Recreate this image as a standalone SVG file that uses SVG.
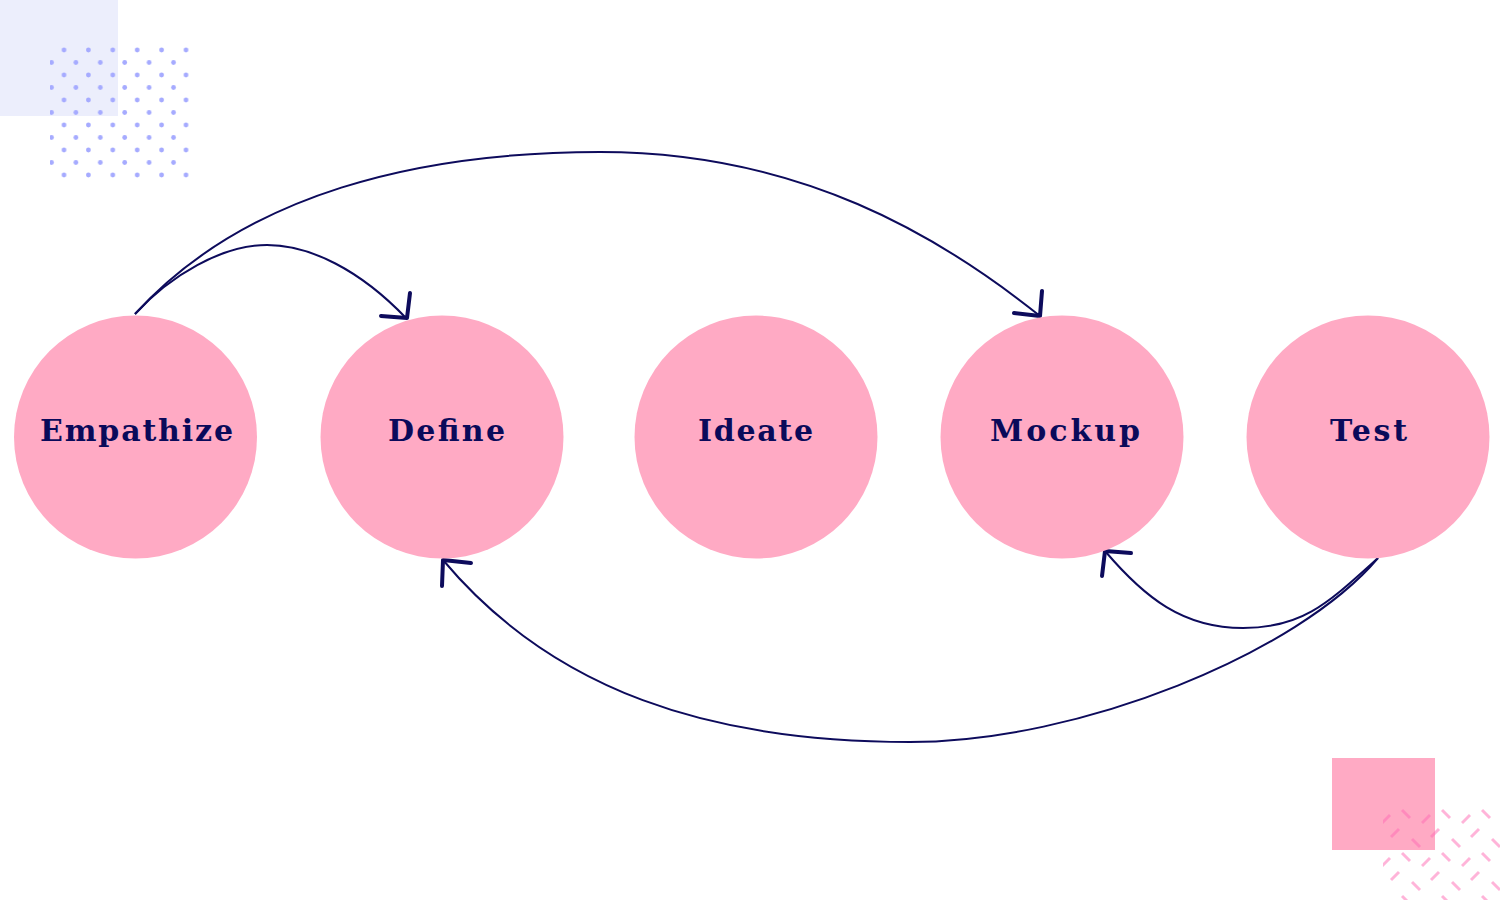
<svg xmlns="http://www.w3.org/2000/svg" width="1500" height="900" viewBox="0 0 1500 900">
<defs>
<style>
.node{fill:#ffaac4}
.lbl{font-family:"DejaVu Serif","Liberation Serif",serif;font-weight:bold;font-size:30px;fill:#0a0a5a;text-anchor:middle}
.edge{fill:none;stroke:#0d0b5c;stroke-width:2}
.head{fill:none;stroke:#0d0b5c;stroke-width:4;stroke-linecap:round;stroke-linejoin:round}
</style>
<pattern id="dots" patternUnits="userSpaceOnUse" x="45" y="44" width="24.4" height="25">
<circle cx="19" cy="6" r="2.4" fill="#a6abff"/>
<circle cx="6.5" cy="18.5" r="2.4" fill="#a6abff"/>
</pattern>
<pattern id="dashes" patternUnits="userSpaceOnUse" x="1383" y="806" width="40" height="43">
<g stroke="#ff69b4" stroke-opacity="0.5" stroke-width="3" stroke-linecap="butt">
<line x1="19" y1="4" x2="27" y2="12"/>
<line x1="39" y1="17" x2="47" y2="9"/>
<line x1="-1" y1="17" x2="7" y2="9"/>
<line x1="8" y1="31" x2="16" y2="23"/>
<line x1="29" y1="33" x2="37" y2="41"/>
</g>
</pattern>
</defs>
<g id="decor">
<rect x="0" y="0" width="118" height="116" fill="#eceefc"/>
<rect x="50" y="45" width="140" height="135" fill="url(#dots)"/>
<rect x="1332" y="758" width="103" height="92" fill="#ffaac4"/>
<rect x="1383" y="808" width="117" height="92" fill="url(#dashes)"/>
</g>
<g id="connectors">
<path class="edge" d="M135 314 C170 275.5 222 245 267 245 C310 245 360 270 406 318"/>
<path class="head" d="M381 316 L407 318 L410 293"/>
<path class="edge" d="M135 314 C245 193 420 152 600 152 C800 152 940 236 1040 316"/>
<path class="head" d="M1014 313 L1040 316 L1042 291"/>
<path class="edge" d="M1378 558 C1328 603 1303 628 1243 628 C1183 628 1145 598 1105 551"/>
<path class="head" d="M1131 553 L1105 551 L1102 576"/>
<path class="edge" d="M1378 558 C1298 653 1080 742 910 742 C710 742 553 691 443 560"/>
<path class="head" d="M471 563 L443 560 L442 586"/>
</g>
<g id="n-empathize"><circle class="node" cx="135.5" cy="437" r="121.5"/><text class="lbl" x="136.5" y="441" textLength="193" lengthAdjust="spacing">Empathize</text></g>
<g id="n-define"><circle class="node" cx="442" cy="437" r="121.5"/><text class="lbl" x="446.5" y="441" textLength="117" lengthAdjust="spacing">Define</text></g>
<g id="n-ideate"><circle class="node" cx="756" cy="437" r="121.5"/><text class="lbl" x="755.5" y="441" textLength="115" lengthAdjust="spacing">Ideate</text></g>
<g id="n-mockup"><circle class="node" cx="1062" cy="437" r="121.5"/><text class="lbl" x="1065" y="441" textLength="150" lengthAdjust="spacing">Mockup</text></g>
<g id="n-test"><circle class="node" cx="1368" cy="437" r="121.5"/><text class="lbl" x="1368.5" y="441" textLength="77" lengthAdjust="spacing">Test</text></g>
</svg>
